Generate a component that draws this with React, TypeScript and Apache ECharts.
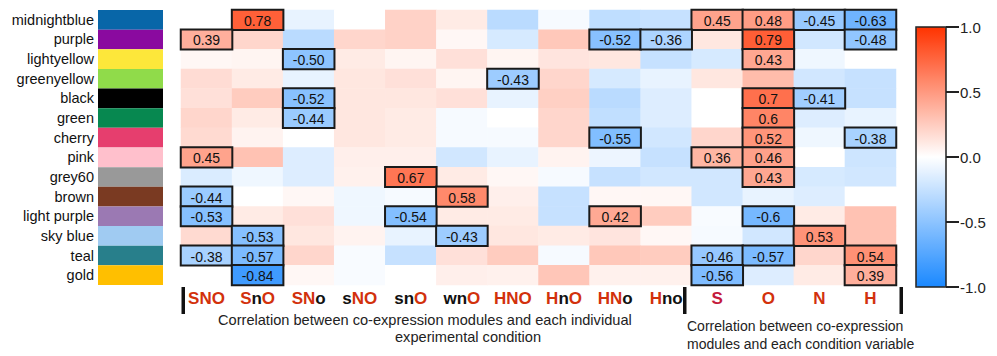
import React, { useEffect, useRef } from "react";
import * as echarts from "echarts";

const modules = [
  "midnightblue", "purple", "lightyellow", "greenyellow", "black", "green", "cherry",
  "pink", "grey60", "brown", "light purple", "sky blue", "teal", "gold",
];
const swatchColors = [
  "#0866a8", "#8a0a9f", "#fde73a", "#90db4a", "#000000", "#078850", "#e63e6e",
  "#ffc0cc", "#999999", "#7a3a22", "#9b79b3", "#a0cbf2", "#287f8b", "#ffbf00",
];
const conditions = ["SNO", "SnO", "SNo", "sNO", "snO", "wnO", "HNO", "HnO", "HNo", "Hno", "S", "O", "N", "H"];

const values: number[][] = [
  [0.0, 0.78, -0.1, 0.0, 0.22, 0.1, -0.3, -0.04, -0.28, -0.25, 0.45, 0.48, -0.45, -0.63],
  [0.39, 0.2, -0.3, 0.2, 0.22, 0.04, -0.18, 0.27, -0.52, -0.36, 0.12, 0.79, -0.2, -0.48],
  [0.04, 0.05, -0.5, 0.1, 0.05, 0.15, 0.05, 0.13, 0.12, -0.25, -0.18, 0.43, -0.07, 0.0],
  [0.17, 0.1, -0.1, 0.12, 0.15, 0.05, -0.43, 0.2, -0.18, -0.1, 0.12, 0.33, -0.2, -0.25],
  [0.15, 0.25, -0.52, 0.12, 0.12, 0.15, -0.1, 0.23, -0.3, -0.15, 0.0, 0.7, -0.41, -0.25],
  [0.2, 0.1, -0.44, 0.12, 0.1, -0.04, 0.0, 0.2, -0.27, -0.15, 0.0, 0.6, -0.15, -0.1],
  [0.18, 0.06, 0.0, 0.12, 0.1, -0.04, -0.04, 0.2, -0.55, -0.2, 0.2, 0.52, -0.07, -0.38],
  [0.45, 0.3, -0.15, 0.08, 0.08, -0.2, -0.1, 0.06, -0.08, -0.25, 0.36, 0.46, 0.0, -0.22],
  [-0.16, -0.07, -0.15, 0.07, 0.67, 0.1, 0.04, -0.04, -0.25, -0.2, -0.2, 0.43, -0.18, -0.2],
  [-0.44, 0.0, 0.04, -0.07, -0.04, 0.58, 0.08, -0.25, 0.04, 0.04, -0.2, -0.1, -0.15, 0.0],
  [-0.53, 0.1, 0.15, -0.07, -0.54, 0.1, 0.1, -0.25, 0.42, 0.25, -0.03, -0.6, 0.1, 0.3],
  [0.18, -0.53, 0.12, 0.06, -0.1, -0.43, 0.12, 0.1, 0.13, 0.04, -0.04, -0.2, 0.53, 0.3],
  [-0.38, -0.57, 0.2, -0.03, -0.25, 0.15, 0.25, -0.04, 0.27, 0.25, -0.46, -0.57, 0.2, 0.54],
  [0.0, -0.84, 0.04, -0.03, 0.0, 0.08, 0.07, 0.28, 0.07, 0.07, -0.56, -0.15, 0.1, 0.39],
];

const sigLabels: string[][] = [
  ["", "0.78", "", "", "", "", "", "", "", "", "0.45", "0.48", "-0.45", "-0.63"],
  ["0.39", "", "", "", "", "", "", "", "-0.52", "-0.36", "", "0.79", "", "-0.48"],
  ["", "", "-0.50", "", "", "", "", "", "", "", "", "0.43", "", ""],
  ["", "", "", "", "", "", "-0.43", "", "", "", "", "", "", ""],
  ["", "", "-0.52", "", "", "", "", "", "", "", "", "0.7", "-0.41", ""],
  ["", "", "-0.44", "", "", "", "", "", "", "", "", "0.6", "", ""],
  ["", "", "", "", "", "", "", "", "-0.55", "", "", "0.52", "", "-0.38"],
  ["0.45", "", "", "", "", "", "", "", "", "", "0.36", "0.46", "", ""],
  ["", "", "", "", "0.67", "", "", "", "", "", "", "0.43", "", ""],
  ["-0.44", "", "", "", "", "0.58", "", "", "", "", "", "", "", ""],
  ["-0.53", "", "", "", "-0.54", "", "", "", "0.42", "", "", "-0.6", "", ""],
  ["", "-0.53", "", "", "", "-0.43", "", "", "", "", "", "", "0.53", ""],
  ["-0.38", "-0.57", "", "", "", "", "", "", "", "", "-0.46", "-0.57", "", "0.54"],
  ["", "-0.84", "", "", "", "", "", "", "", "", "-0.56", "", "", "0.39"],
];

const FONT = "'Liberation Sans', Arial, Helvetica, sans-serif";
const CB = { left: 916, top: 27, width: 30, height: 260 };

export default function App() {
  const ref = useRef<HTMLDivElement>(null);
  useEffect(() => {
    if (!ref.current) return;
    const chart = echarts.init(ref.current, undefined, { renderer: "svg" });

    const allCells: any[] = [];
    const sigCells: any[] = [];
    values.forEach((row, y) =>
      row.forEach((v, x) => {
        allCells.push([x, y, v]);
        if (sigLabels[y][x] !== "") sigCells.push([x, y, v]);
      })
    );

    const labelFmt = (val: string) =>
      val
        .split("")
        .map((ch) => {
          const st = ch === ch.toUpperCase() ? (val === "S" ? "c" : "r") : "k";
          return `{${st}|${ch}}`;
        })
        .join("");
    const richBase = { fontWeight: "bold" as const, fontSize: 17, fontFamily: FONT };

    const option: any = {
      animation: false,
      textStyle: { fontFamily: FONT },
      grid: [
        { left: 181, top: 10, width: 715, height: 275 },
        { left: 98, top: 10, width: 65, height: 275 },
        { ...CB, show: true, borderColor: "#222", borderWidth: 1.5, backgroundColor: "transparent", z: 10 },
      ],
      xAxis: [
        {
          type: "category", gridIndex: 0, data: conditions,
          axisLine: { show: false }, axisTick: { show: false }, splitLine: { show: false },
          axisLabel: {
            margin: 5, interval: 0, formatter: labelFmt,
            rich: {
              r: { ...richBase, color: "#d2310c" },
              k: { ...richBase, color: "#111" },
              c: { ...richBase, color: "#c41a3c" },
            },
          },
        },
        { type: "value", gridIndex: 1, min: 0, max: 1, show: false },
        { type: "value", gridIndex: 2, min: 0, max: 1, show: false },
      ],
      yAxis: [
        { type: "category", gridIndex: 0, data: modules, inverse: true, show: false },
        {
          type: "category", gridIndex: 1, data: modules, inverse: true,
          axisLine: { show: false }, axisTick: { show: false },
          axisLabel: { margin: 4, fontSize: 14.5, color: "#111", fontFamily: FONT },
        },
        {
          type: "value", gridIndex: 2, min: -1, max: 1, interval: 0.5, position: "right",
          axisLine: { show: false }, axisTick: { show: false }, splitLine: { show: false },
          axisLabel: {
            margin: 0, color: "#222", fontFamily: FONT,
            formatter: (v: number) => `{t|}{v|${v.toFixed(1)}}`,
            rich: {
              t: { width: 13, height: 2, backgroundColor: "#222", verticalAlign: "middle" },
              v: { fontSize: 15, color: "#222", fontFamily: FONT, padding: [0, 0, 0, 1], verticalAlign: "middle" },
            },
          },
        },
      ],
      visualMap: {
        type: "continuous", min: -1, max: 1, seriesIndex: [0, 1],
        inRange: { color: ["#1a88ff", "#ffffff", "#ff3300"] },
        itemWidth: CB.width, itemHeight: CB.height, left: CB.left, top: CB.top, padding: 0,
        calculable: false, hoverLink: false, showLabel: false, text: null,
      },
      series: [
        {
          type: "heatmap", xAxisIndex: 0, yAxisIndex: 0, data: allCells,
          emphasis: { disabled: true }, label: { show: false },
        },
        {
          type: "heatmap", xAxisIndex: 0, yAxisIndex: 0, data: sigCells,
          emphasis: { disabled: true },
          itemStyle: { borderColor: "#1a1a1a", borderWidth: 2 },
          label: {
            show: true, fontSize: 14, color: "#111", fontFamily: FONT, offset: [0, 1],
            formatter: (p: any) => sigLabels[p.value[1]][p.value[0]],
          },
        },
        {
          type: "bar", xAxisIndex: 1, yAxisIndex: 1, barWidth: "100%",
          data: swatchColors.map((c) => ({ value: 1, itemStyle: { color: c } })),
          emphasis: { disabled: true },
        },
        { type: "scatter", xAxisIndex: 2, yAxisIndex: 2, data: [[0.5, 0]], symbolSize: 0, itemStyle: { opacity: 0 }, silent: true },
      ],
      graphic: [
        { type: "rect", shape: { x: 181.5, y: 287, width: 3.5, height: 27 }, style: { fill: "#111" } },
        { type: "rect", shape: { x: 683, y: 287, width: 3.5, height: 27 }, style: { fill: "#111" } },
        { type: "rect", shape: { x: 899.5, y: 287, width: 3.5, height: 27 }, style: { fill: "#111" } },
        { type: "text", x: 218, y: 320, style: { text: "Correlation between co-expression modules and each individual", fontSize: 14.6, fontFamily: FONT, fill: "#222", verticalAlign: "middle", align: "left" } },
        { type: "text", x: 395, y: 337, style: { text: "experimental condition", fontSize: 14.6, fontFamily: FONT, fill: "#222", verticalAlign: "middle", align: "left" } },
        { type: "text", x: 687, y: 326, style: { text: "Correlation between co-expression", fontSize: 14, fontFamily: FONT, fill: "#222", verticalAlign: "middle", align: "left" } },
        { type: "text", x: 687, y: 344, style: { text: "modules and each condition variable", fontSize: 14, fontFamily: FONT, fill: "#222", verticalAlign: "middle", align: "left" } },
      ],
    };
    chart.setOption(option);
    return () => chart.dispose();
  }, []);
  return <div ref={ref} style={{ position: "fixed", left: 0, top: 0, width: 997, height: 356, background: "#fff" }} />;
}
